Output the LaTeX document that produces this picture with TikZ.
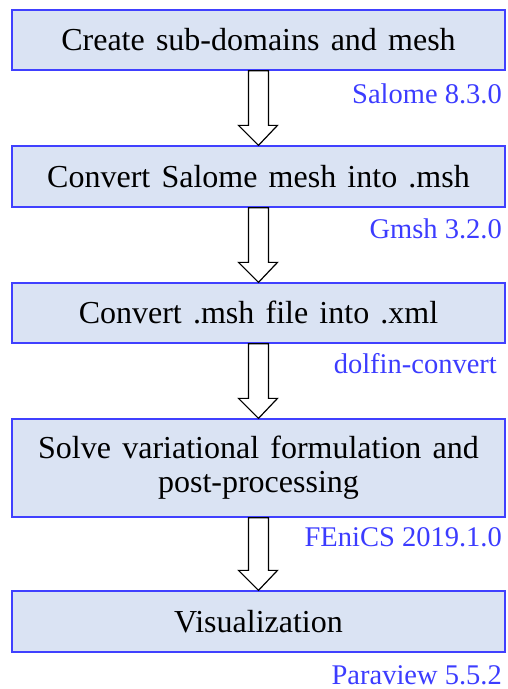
\documentclass[tikz,border=0pt]{standalone}
\usepackage{fontspec}
\setmainfont{Liberation Serif}
\usetikzlibrary{calc}
\definecolor{boxfill}{RGB}{218,227,243}
\definecolor{boxline}{RGB}{64,64,255}
\definecolor{tooltext}{RGB}{60,60,255}
\newcommand{\widespaces}{\spaceskip=0.35em\relax}
\tikzset{
  stepbox/.style={draw=boxline, line width=1.3pt, fill=boxfill, minimum width=493pt,
    inner sep=0pt, font=\fontsize{32}{34}\selectfont},
  onebox/.style={stepbox, text height=21pt, text depth=0pt},
  toollabel/.style={anchor=base east, inner sep=0pt, text=tooltext, font=\fontsize{28.5}{30}\selectfont},
  flowarrow/.style={draw=black, fill=white, line width=1.2pt, line join=miter}
}
\newcommand{\hollowarrow}[2]{%
  \draw[flowarrow] ($(#1.south)+(-10pt,0)$) -- ($(#1.south)+(10pt,0)$)
    -- ($(#2.north)+(10pt,20pt)$) -- ($(#2.north)+(19pt,20pt)$)
    -- (#2.north) -- ($(#2.north)+(-20pt,20pt)$)
    -- ($(#2.north)+(-10pt,20pt)$) -- cycle;}
\begin{document}
\begin{tikzpicture}[x=1pt,y=-1pt]
\useasboundingbox (0,0) rectangle (508,689);
\node[onebox, minimum height=60pt] (b1) at (258.5,40) {\widespaces Create sub-domains and mesh};
\node[onebox, minimum height=61pt] (b2) at (258.5,176.5) {\widespaces Convert Salome mesh into .msh};
\node[onebox, minimum height=60pt] (b3) at (258.5,313) {\widespaces Convert .msh file into .xml};
\node[stepbox, minimum height=98pt, align=center] (b4) at (258.5,468) {\widespaces Solve variational formulation and\\post-processing};
\node[onebox, minimum height=61pt] (b5) at (258.5,621.5) {Visualization};
\hollowarrow{b1}{b2}
\hollowarrow{b2}{b3}
\hollowarrow{b3}{b4}
\hollowarrow{b4}{b5}
\node[toollabel] (t1) at (502,103) {Salome 8.3.0};
\node[toollabel] (t2) at (502,238) {Gmsh 3.2.0};
\node[toollabel] (t3) at (497,373) {dolfin-convert};
\node[toollabel] (t4) at (502,546) {FEniCS 2019.1.0};
\node[toollabel] (t5) at (502,684) {Paraview 5.5.2};
\end{tikzpicture}
\end{document}
